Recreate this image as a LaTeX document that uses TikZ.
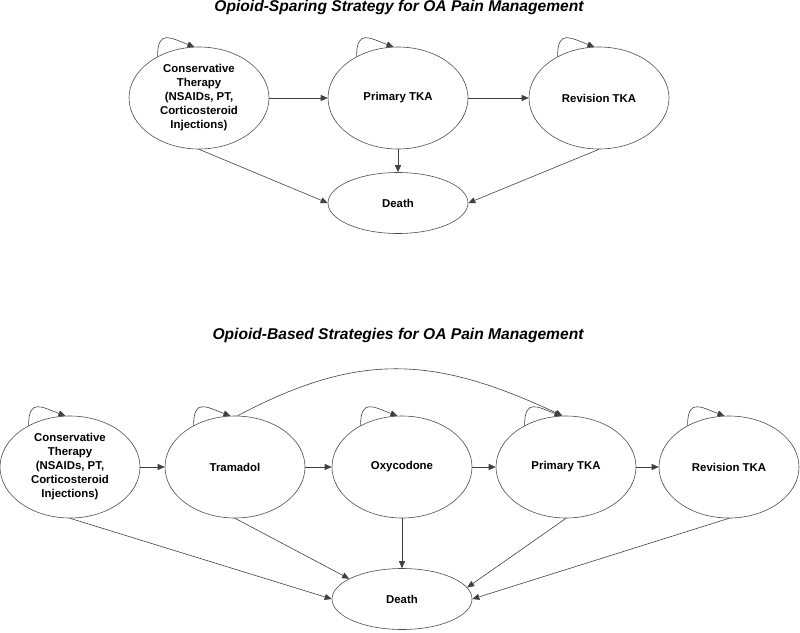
\documentclass[tikz,border=0pt]{standalone}
\usepackage{fontspec}
\setmainfont{Liberation Sans}
\usetikzlibrary{shapes.geometric,arrows.meta}

\begin{document}
\begin{tikzpicture}[x=1pt,y=1pt,
	state/.style={ellipse,draw=black!70,line width=0.6pt,minimum width=140pt,minimum height=102pt,inner sep=0pt,align=center,font=\fontsize{11.4}{14}\selectfont\bfseries},
	death/.style={state,minimum height=61pt},
	arr/.style={draw=black!75,line width=0.6pt,-{Triangle[length=7pt,width=6pt]}},
	heading/.style={font=\fontsize{15.6}{18}\selectfont\bfseries\itshape}]
		\useasboundingbox (0,0) rectangle (800,-632);
		% opioid-sparing
		\node[heading] (title1) at (399,-7) {Opioid-Sparing Strategy for OA Pain Management};
		\node[state] (cons1) at (199,-98) {Conservative\\Therapy\\(NSAIDs, PT,\\Corticosteroid\\Injections)};
		\node[state] (prim1) at (398,-98) {Primary TKA};
		\node[state] (rev1) at (599,-98) {Revision TKA};
		\node[death] (death1) at (398,-203) {Death};
		% opioid-based
		\node[heading] (title2) at (398,-335) {Opioid-Based Strategies for OA Pain Management};
		\node[state] (cons2) at (70,-467) {Conservative\\Therapy\\(NSAIDs, PT,\\Corticosteroid\\Injections)};
		\node[state] (tram2) at (235,-467) {Tramadol};
		\node[state] (oxy2) at (402,-467) {Oxycodone};
		\node[state] (prim2) at (566,-467) {Primary TKA};
		\node[state] (rev2) at (729,-467) {Revision TKA};
		\node[death] (death2) at (402,-599) {Death};
		\foreach \a/\b in {cons1/prim1,prim1/rev1,prim1/death1,cons2/tram2,tram2/oxy2,oxy2/prim2,prim2/rev2,oxy2/death2} {
			\draw[arr] (\a) -- (\b);
		}
		\draw[arr] (cons1.south) -- (death1.west);
		\draw[arr] (rev1.south) -- (death1.east);
		\draw[arr] (cons2.south) -- (death2.west);
		\draw[arr] (tram2.south) -- (death2.159);
		\draw[arr] (prim2.south) -- (death2.10);
		\draw[arr] (rev2.south) -- (death2.east);
		\draw[arr] (tram2.87) to[out=28,in=155,looseness=1.1] (prim2.94);
		% self loops
		\foreach \n in {cons1,prim1,rev1,cons2,tram2,oxy2,prim2,rev2} {
			\draw[arr] (\n.135) .. controls +(0,28) and +(-23.5,8.5) .. (\n.95);
		}
	\end{tikzpicture}
\end{document}
